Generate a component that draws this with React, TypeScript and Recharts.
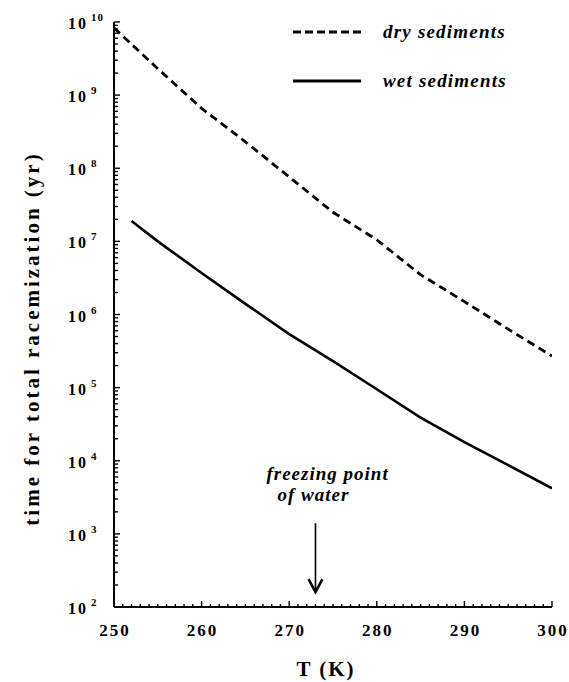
import React from 'react';
import { LineChart, Line, XAxis, YAxis, Legend, ReferenceLine, Label } from 'recharts';

// ---- data ----
const temperatures = [250, 252, 255, 260, 265, 270, 275, 280, 285, 290, 295, 300];
const drySediments = [8.3e9, null, 2.3e9, 6.6e8, 2.3e8, 7.6e7, 2.5e7, 1.05e7, 3.5e6, 1.5e6, 6.3e5, 2.7e5];
const wetSediments = [null, 1.9e7, 1.0e7, 3.7e6, 1.4e6, 5.4e5, 2.3e5, 9.5e4, 3.9e4, 1.8e4, 8.7e3, 4.2e3];

const xMajorTicks = [250, 260, 270, 280, 290, 300];
const yDecades = [2, 3, 4, 5, 6, 7, 8, 9, 10];
const freezingPoint = 273;
const arrowTop = 1400;
const arrowTip = 160;

const seriesNames = { dry: 'dry sediments', wet: 'wet sediments' };

const chartData = temperatures.map((t, i) => ({ T: t, dry: drySediments[i], wet: wetSediments[i] }));

const xTicks: number[] = [];
for (let t = xMajorTicks[0]; t <= xMajorTicks[xMajorTicks.length - 1]; t++) xTicks.push(t);

const yTicks: number[] = [];
yDecades.forEach((d) => {
  if (d === yDecades[yDecades.length - 1]) {
    yTicks.push(Math.pow(10, d));
  } else {
    for (let m = 1; m <= 9; m++) yTicks.push(m * Math.pow(10, d));
  }
});

const FONT = "Liberation Serif, DejaVu Serif, serif";

const YTick = (props: any) => {
  const { x, y, payload } = props;
  const v = payload.value;
  const e = Math.log10(v);
  const major = Math.abs(e - Math.round(e)) < 1e-6;
  return (
    <g>
      <line x1={x} y1={y} x2={x + (major ? 6 : 4)} y2={y} stroke="#000" strokeWidth={1.4} />
      {major && (
        <g style={{ fontFamily: FONT, fontWeight: 'bold' }} fill="#000">
          <text x={x - 26} y={y + 7} textAnchor="end" fontSize={16} style={{ letterSpacing: '2px', fontFamily: FONT }}>10</text>
          <text x={x - 23} y={y - 1} textAnchor="start" fontSize={11} style={{ letterSpacing: '1px', fontFamily: FONT }}>{Math.round(e)}</text>
        </g>
      )}
    </g>
  );
};

const XTick = (props: any) => {
  const { x, y, payload } = props;
  const v = payload.value;
  const major = xMajorTicks.includes(v);
  return (
    <g>
      <line x1={x} y1={y} x2={x} y2={y - (major ? 6 : 3)} stroke="#000" strokeWidth={1.4} />
      {major && (
        <text x={x + 1} y={y + 29} textAnchor="middle" fontWeight="bold" fontSize={17} fill="#000" style={{ letterSpacing: '2px', fontFamily: FONT }}>
          {v}
        </text>
      )}
    </g>
  );
};

const FreezingArrow = (props: any) => {
  const { x1, y1, x2, y2 } = props;
  return (
    <g>
      <g fontWeight="bold" fontStyle="italic" fontSize={19} fill="#000" style={{ letterSpacing: '1px', fontFamily: FONT }}>
        <text x={x1 - 49} y={y1 - 43} style={{ fontFamily: FONT }}>freezing point</text>
        <text x={x1 - 38} y={y1 - 22} style={{ fontFamily: FONT }}>of water</text>
      </g>
      <line x1={x1} y1={y1} x2={x2} y2={y2} stroke="#000" strokeWidth={1.6} />
      <path d={`M${x2 - 7},${y2 - 13} L${x2},${y2} L${x2 + 7},${y2 - 13}`} fill="none" stroke="#000" strokeWidth={2.6} />
    </g>
  );
};

const legendStyles: Record<string, string | undefined> = {
  [seriesNames.dry]: '8 4',
  [seriesNames.wet]: undefined,
};

const LegendContent = (props: any) => {
  const { payload } = props;
  return (
    <div>
      {(payload || []).map((entry: any) => (
        <div key={entry.value} style={{ display: 'flex', alignItems: 'center', height: 49 }}>
          <svg width={68} height={6} style={{ display: 'block' }}>
            <line x1={0} y1={3} x2={68} y2={3} stroke="#000" strokeWidth={3} strokeDasharray={legendStyles[entry.value]} />
          </svg>
          <span style={{ marginLeft: 22, fontFamily: FONT, fontWeight: 'bold', fontStyle: 'italic', fontSize: 19, letterSpacing: '1.2px', color: '#000' }}>
            {entry.value}
          </span>
        </div>
      ))}
    </div>
  );
};

export default function App() {
  return (
    <div style={{ position: 'absolute', left: 0, top: 0, background: '#fff', fontFamily: FONT }}>
      <LineChart width={569} height={682} data={chartData} margin={{ top: 22, right: 17, bottom: 35, left: 14 }} style={{ fontFamily: FONT }}>
        <XAxis
          dataKey="T"
          type="number"
          domain={[250, 300]}
          ticks={xTicks}
          interval={0}
          tick={<XTick />}
          tickLine={false}
          tickSize={0}
          tickMargin={0}
          axisLine={{ stroke: '#000', strokeWidth: 2 }}
          height={40}
          allowDataOverflow
        >
          <Label
            content={(p: any) => {
              const vb = p.viewBox || { x: 114, y: 607, width: 438, height: 40 };
              return (
                <text x={vb.x + vb.width / 2 - 7} y={vb.y + 69} textAnchor="middle" fontWeight="bold" fontSize={21} fill="#000" style={{ letterSpacing: '2px', fontFamily: FONT }}>
                  T (K)
                </text>
              );
            }}
          />
        </XAxis>
        <YAxis
          type="number"
          scale="log"
          domain={[1e2, 1e10]}
          ticks={yTicks}
          interval={0}
          tick={<YTick />}
          tickLine={false}
          tickSize={0}
          tickMargin={0}
          axisLine={{ stroke: '#000', strokeWidth: 2 }}
          width={100}
          allowDataOverflow
        >
          <Label
            content={(p: any) => {
              const vb = p.viewBox || { x: 14, y: 22, width: 100, height: 585 };
              const cx = vb.x + 18;
              const cy = vb.y + vb.height / 2 + 24;
              return (
                <text x={cx} y={cy} transform={`rotate(-90, ${cx}, ${cy})`} textAnchor="middle" dominantBaseline="central" fontWeight="bold" fontSize={21} fill="#000" style={{ letterSpacing: '3px', fontFamily: FONT }}>
                  time for total racemization (yr)
                </text>
              );
            }}
          />
        </YAxis>
        <Legend
          layout="vertical"
          align="center"
          verticalAlign="middle"
          content={<LegendContent />}
          wrapperStyle={{ left: 293, top: 7, width: 260 }}
        />
        <ReferenceLine
          segment={[{ x: freezingPoint, y: arrowTop }, { x: freezingPoint, y: arrowTip }]}
          shape={<FreezingArrow />}
        />
        <Line
          name={seriesNames.dry}
          dataKey="dry"
          stroke="#000"
          strokeWidth={2.8}
          strokeDasharray="8 5"
          dot={false}
          connectNulls
          isAnimationActive={false}
          legendType="line"
        />
        <Line
          name={seriesNames.wet}
          dataKey="wet"
          stroke="#000"
          strokeWidth={2.6}
          dot={false}
          connectNulls
          isAnimationActive={false}
          legendType="line"
        />
      </LineChart>
    </div>
  );
}
